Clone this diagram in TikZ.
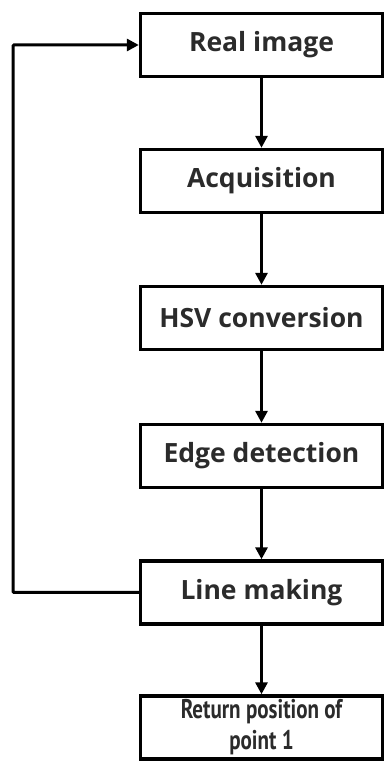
\documentclass[tikz,border=0pt]{standalone}
\usepackage{fontspec}
\setmainfont{Open Sans}
\newfontfamily\narrowfont{PT Sans}[FakeStretch=0.78]
\usetikzlibrary{arrows.meta}
\definecolor{ink}{HTML}{2B2B2B}
\begin{document}
\begin{tikzpicture}[x=1pt,y=1pt,
  stage/.style={draw=black, line width=3.4pt, fill=white, minimum width=242pt,
    minimum height=63pt, inner sep=0pt, align=center, text=ink,
    font=\fontsize{26.5}{30}\selectfont\bfseries},
  flow/.style={line width=3pt, draw=black,
    -{Triangle[length=12pt,width=12pt]}}]
\useasboundingbox (0,0) rectangle (385,761);
\node[stage] (real) at (261.5,716) {Real image};
\node[stage] (acq)  at (261.5,580) {Acquisition};
\node[stage] (hsv)  at (261.5,443) {HSV conversion};
\node[stage] (edge) at (261.5,305) {Edge detection};
\node[stage] (line) at (261.5,168.5) {Line making};
\node[stage, font=\narrowfont\fontsize{27}{31}\selectfont\bfseries] (ret) at (261.5,33.5)
  {Return position of\\point 1};
\coordinate (loopb) at (13,168.5);
\coordinate (loopt) at (13,716);
\draw[flow] (real) -- (acq);
\draw[flow] (acq) -- (hsv);
\draw[flow] (hsv) -- (edge);
\draw[flow] (edge) -- (line);
\draw[flow] (line) -- (ret);
\draw[flow, rounded corners=1pt] (line.west) -- (loopb) -- (loopt) -- (real.west);
\end{tikzpicture}
\end{document}
